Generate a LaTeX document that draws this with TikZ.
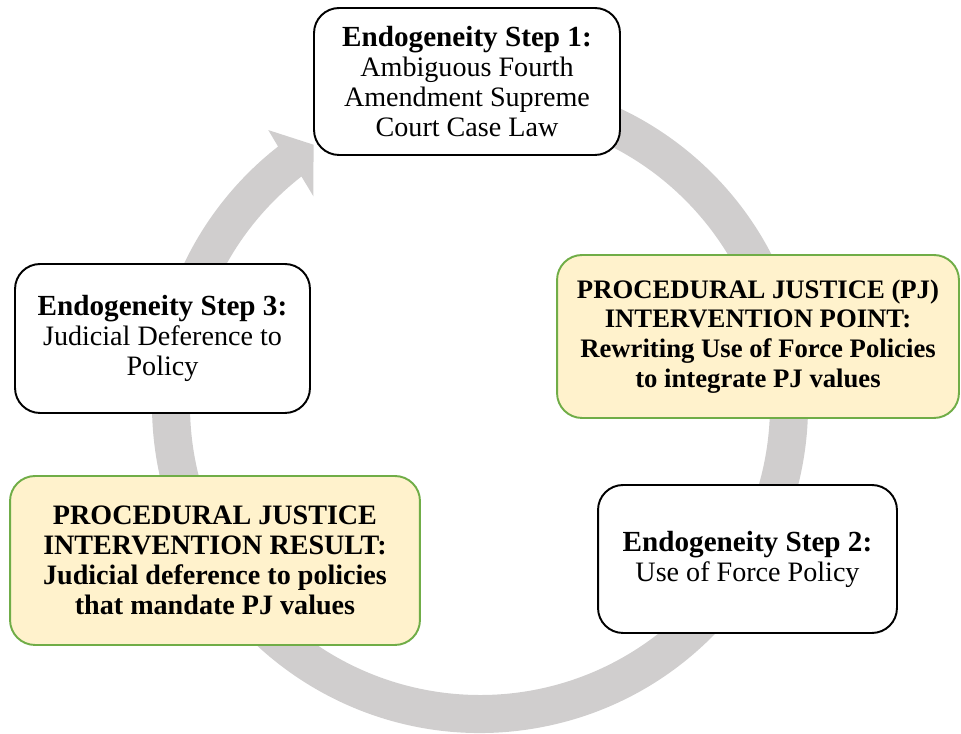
\documentclass[tikz,border=0pt]{standalone}
\usepackage{fontspec}
\setmainfont{Liberation Serif}
\usetikzlibrary{calc}
\definecolor{ringgray}{HTML}{D0CECE}
\definecolor{pjyellow}{HTML}{FFF2CC}
\definecolor{pjgreen}{HTML}{70AD47}
\newcommand{\stephead}[1]{{\fontsize{16.6}{17}\selectfont\textbf{#1}}}
\begin{document}
\begin{tikzpicture}[x=0.02cm,y=0.02cm,
  box/.style={draw=black, line width=1.1pt, rounded corners=0.5cm, fill=white,
    align=center, inner sep=0pt, font=\fontsize{16}{17}\selectfont},
  pjbox/.style={box, draw=pjgreen, fill=pjyellow}]
\useasboundingbox (0,0) rectangle (961,734);
\coordinate (c) at (480,329);
% cycle arrow
\fill[ringgray] ($(c)+(100:328)$) arc[start angle=100, end angle=-232, radius=328]
  -- ($(c)+(127.6:347)$) -- ($(c)+(122.6:309)$) -- ($(c)+(128.6:267)$)
  -- ($(c)+(128:290)$) arc[start angle=-232, end angle=100, radius=290] -- cycle;
% boxes
\node[box, minimum width=6.12cm, minimum height=2.94cm] (s1) at (467,652.5)
  {\stephead{Endogeneity Step 1:}\\Ambiguous Fourth\\Amendment Supreme\\Court Case Law};
\node[box, minimum width=5.9cm, minimum height=2.98cm] (s3) at (162.5,395.5)
  {\stephead{Endogeneity Step 3:}\\Judicial Deference to\\Policy};
\node[pjbox, minimum width=8.04cm, minimum height=3.26cm, font=\fontsize{15.2}{17}\selectfont\bfseries] (pjp) at (758,397.5)
  {PROCEDURAL JUSTICE (PJ)\\INTERVENTION POINT:\\Rewriting Use of Force Policies\\to integrate PJ values};
\node[pjbox, minimum width=8.2cm, minimum height=3.38cm, font=\fontsize{16}{17}\selectfont\bfseries] (pjr) at (215,173.5)
  {PROCEDURAL JUSTICE\\INTERVENTION RESULT:\\Judicial deference to policies\\that mandate PJ values};
\node[box, minimum width=5.98cm, minimum height=2.96cm] (s2) at (747.5,175)
  {\stephead{Endogeneity Step 2:}\\Use of Force Policy};
\end{tikzpicture}
\end{document}
